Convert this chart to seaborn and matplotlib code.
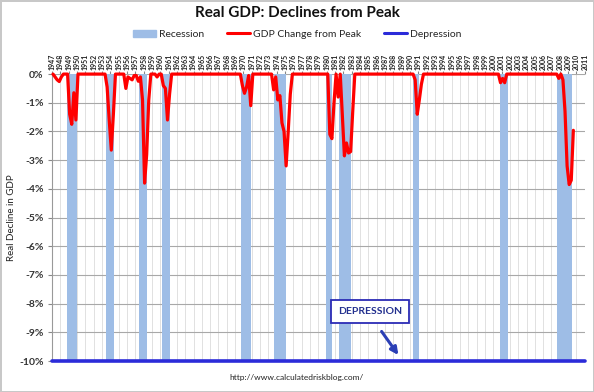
import numpy as np
import pandas as pd
import matplotlib
matplotlib.use("Agg")
import matplotlib.pyplot as plt
import seaborn as sns

# quarterly decline from prior peak (%), years not listed are at the peak (0)
declines = {
    1947: [0, -0.1, -0.2, -0.26],
    1948: [-0.1, 0, 0, 0],
    1949: [-1.4, -1.75, -0.65, -1.6],
    1953: [0, 0, -0.45, -1.6],
    1954: [-2.65, -1.4, 0, 0],
    1955: [0, 0, 0, -0.5],
    1956: [-0.1, -0.15, -0.2, -0.05],
    1957: [-0.05, -0.25, -0.1, -0.9],
    1958: [-3.8, -2.8, -0.9, 0],
    1959: [0, 0, -0.1, 0],
    1960: [0, -0.4, -0.5, -1.6],
    1961: [-0.7, 0, 0, 0],
    1969: [0, 0, 0, -0.4],
    1970: [-0.67, -0.45, -0.05, -1.1],
    1973: [0, 0, -0.55, -0.1],
    1974: [-0.9, -0.75, -1.7, -2.0],
    1975: [-3.2, -2.0, -0.7, 0],
    1980: [0, -2.1, -2.25, -1.0],
    1981: [0, -0.8, 0, -1.4],
    1982: [-2.85, -2.4, -2.75, -2.7],
    1983: [-1.3, 0, 0, 0],
    1990: [0, 0, -0.2, -1.4],
    1991: [-0.9, -0.35, 0, 0],
    2000: [0, 0, 0, -0.3],
    2001: [-0.15, -0.3, 0, 0],
    2007: [0, 0, 0, -0.15],
    2008: [0, -0.2, -1.3, -3.2],
    2009: [-3.85, -3.7, -1.96],
}
first_year, last_year = 1947, 2009

# recession shading (start, end) in years
rec_start = [1948.80, 1953.48, 1957.48, 1960.24, 1969.65, 1973.65, 1979.86, 1981.45, 1990.37, 2000.78, 2007.71]
rec_end = [1950.04, 1954.48, 1958.40, 1961.17, 1970.85, 1975.09, 1980.65, 1982.89, 1991.09, 2001.78, 2009.51]

depression_level = -10
year_labels = list(range(1947, 2012))
y_ticks = list(range(0, -11, -1))

# build the quarterly series
rows = []
for yr in range(first_year, last_year + 1):
    vals = declines.get(yr, [0, 0, 0, 0])
    for q, v in enumerate(vals):
        rows.append({"date": yr + (q + 0.5) / 4, "decline": v})
df = pd.DataFrame(rows)

sns.set_style("white")
plt.rcParams["font.family"] = ["Lato", "DejaVu Sans"]

fig = plt.figure(figsize=(5.94, 3.92), dpi=100)
fig.patch.set_edgecolor("#c8c8c8")
fig.patch.set_linewidth(2)
ax = fig.add_axes([0.0875, 0.079, 0.897, 0.732])

rec_color = "#9ebde6"
for s, e in zip(rec_start, rec_end):
    ax.axvspan(s, e, color=rec_color, lw=0, zorder=1)

ax.axhline(depression_level, color="#2b2bd9", lw=2.6, zorder=4, clip_on=False)
sns.lineplot(data=df, x="date", y="decline", ax=ax, color="#ff0000", lw=2.3,
             zorder=5, clip_on=False)

ax.set_xlim(1947, 2011)
ax.set_ylim(-10, 0)
ax.set_xticks(year_labels)
ax.set_xticklabels([str(y) for y in year_labels], rotation=90, fontsize=5,
                   fontweight="bold", color="#222222")
ax.xaxis.tick_top()
ax.tick_params(axis="x", length=2, pad=1, top=True, bottom=False, color="#888888")
ax.set_yticks(y_ticks)
ax.set_yticklabels([f"{t}%" for t in y_ticks], fontsize=7.5, fontweight="bold",
                   color="#333333")
ax.tick_params(axis="y", length=3, pad=3, left=True, color="#888888")
ax.set_xlabel("")
ax.set_ylabel("Real Decline in GDP", fontsize=7, color="#222222", labelpad=2)

ax.grid(axis="x", color="#dcdcdc", lw=0.6, zorder=0)
ax.grid(axis="y", color="#a8a8a8", lw=0.8, zorder=0)
ax.set_axisbelow(True)
for side in ["top", "right", "bottom"]:
    ax.spines[side].set_visible(False)
ax.spines["left"].set_color("#999999")

ax.annotate("", xy=(1988.8, -9.87), xytext=(1986.4, -8.89),
            arrowprops=dict(arrowstyle="-|>", color="#2b3fb5", lw=2.2,
                            mutation_scale=11), zorder=6)
ax.text(1985.2, -8.28, "DEPRESSION", fontsize=7.5, fontweight="bold", color="#23308f",
        ha="center", va="center", zorder=7,
        bbox=dict(boxstyle="square,pad=0.65", fc="white", ec="#2b2bb5", lw=1.3))

fig.suptitle("Real GDP: Declines from Peak", fontsize=11, fontweight="bold",
             y=0.985, color="#111111")

handles = [
    plt.Rectangle((0, 0), 1, 1, color=rec_color),
    plt.Line2D([], [], color="#ff0000", lw=2.2),
    plt.Line2D([], [], color="#2b2bd9", lw=2.2),
]
fig.legend(handles, ["Recession", "GDP Change from Peak", "Depression"],
           loc="center", bbox_to_anchor=(0.5, 0.912), ncol=3, frameon=False,
           fontsize=7.5, handlelength=2.2, handletextpad=0.3, columnspacing=2.2)

fig.text(0.5, 0.03, "http://www.calculatedriskblog.com/", ha="center",
         fontsize=6, color="#222222")

fig.savefig("out.png", dpi=100)
